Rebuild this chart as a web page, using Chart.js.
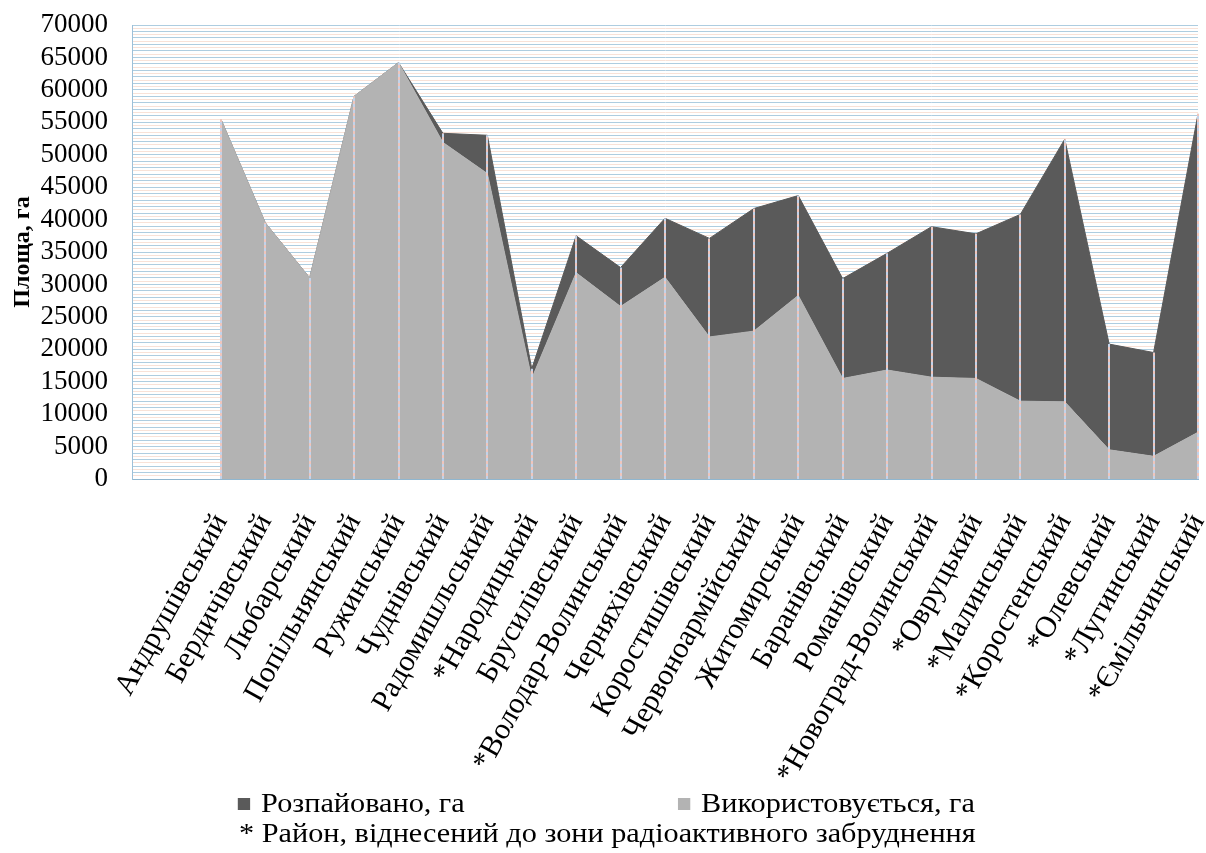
<!DOCTYPE html>
<html lang="uk">
<head>
<meta charset="utf-8">
<title>Площа земель за районами</title>
<script src="https://cdn.jsdelivr.net/npm/chart.js@4/dist/chart.umd.min.js"></script>
<style>
    body { margin: 0; background: #ffffff; }
    .wrap { position: relative; width: 1206px; height: 853px; }
    .legend {
        position: absolute; left: 4px; top: 788px; width: 1206px;
        display: flex; justify-content: center; gap: 190px;
        font-family: 'Liberation Serif', 'Times New Roman', serif; font-size: 27px; color: #000;
        transform: scaleX(1.12); transform-origin: 609px 0;
    }
    .legend-item { display: flex; align-items: center; }
    .legend-box { width: 11px; height: 12px; margin-right: 10px; }
    .note {
        position: absolute; left: 5px; top: 818px; width: 1206px; text-align: center;
        font-family: 'Liberation Serif', 'Times New Roman', serif; font-size: 27px; color: #000;
        transform: scaleX(1.12); transform-origin: 608px 0;
    }
</style>
</head>
<body>
<div class="wrap">
    <canvas id="areaChart" width="1206" height="853"></canvas>
    <div class="legend" id="legend"></div>
    <div class="note" id="note"></div>
</div>
<script>
const districts = ['Андрушівський', 'Бердичівський', 'Любарський', 'Попільнянський', 'Ружинський',
    'Чуднівський', 'Радомишльський', '*Народицький', 'Брусилівський', '*Володар-Волинський',
    'Черняхівський', 'Коростишівський', 'Червоноармійський', 'Житомирський', 'Баранівський',
    'Романівський', '*Новоград-Волинський', '*Овруцький', '*Малинський', '*Коростенський',
    '*Олевський', '*Лугинський', '*Ємільчинський'];
const usedArea = [55500, 39500, 31000, 59000, 64200, 51900, 47100, 15500, 31800, 26600,
    31100, 21900, 22800, 28300, 15500, 16800, 15700, 15500, 12000, 11900, 4500, 3500, 7200];
const sharedArea = [0, 0, 0, 0, 0, 1400, 5900, 1500, 5700, 6000,
    9100, 15200, 18900, 15400, 15400, 18000, 23200, 22300, 28800, 40500, 16300, 16000, 49100];
const seriesNames = ['Розпайовано, га', 'Використовується, га'];
const seriesColors = ['#5a5a5a', '#b3b3b3'];
const yTitle = 'Площа, га';
const footnote = '* Район, віднесений до зони радіоактивного забруднення';
const yMax = 70000;
const yLabelStep = 5000;
const leadingBlanks = 2;

const serif = "'Liberation Serif', 'Times New Roman', serif";
const blanks = new Array(leadingBlanks).fill(null);
const labels = new Array(leadingBlanks).fill('').concat(districts);

// dotted drop lines from the axis up to the top of the stack
const dropLines = {
    id: 'dropLines',
    afterDatasetsDraw(chart) {
        const ctx = chart.ctx;
        const x = chart.scales.x;
        const y = chart.scales.y;
        ctx.save();
        ctx.lineWidth = 2;
        districts.forEach((name, i) => {
            const px = Math.round(x.getPixelForValue(i + leadingBlanks));
            const top = y.getPixelForValue(usedArea[i] + sharedArea[i]);
            [['#c3d3ea', 0], ['#efc6bd', 3]].forEach(([color, offset]) => {
                ctx.strokeStyle = color;
                ctx.setLineDash([3, 3]);
                ctx.lineDashOffset = offset;
                ctx.beginPath();
                ctx.moveTo(px, y.bottom);
                ctx.lineTo(px, top);
                ctx.stroke();
            });
        });
        ctx.restore();
    }
};

const chart = new Chart(document.getElementById('areaChart'), {
    type: 'line',
    data: {
        labels: labels,
        datasets: [{
            label: seriesNames[1],
            data: blanks.concat(usedArea),
            backgroundColor: seriesColors[1],
            borderColor: seriesColors[1],
            borderWidth: 1,
            pointRadius: 0,
            fill: 'origin',
            tension: 0
        }, {
            label: seriesNames[0],
            data: blanks.concat(sharedArea),
            backgroundColor: seriesColors[0],
            borderColor: seriesColors[0],
            borderWidth: 1,
            pointRadius: 0,
            fill: '-1',
            tension: 0
        }]
    },
    options: {
        responsive: false,
        animation: false,
        layout: { padding: { top: 25, right: 8, left: 0, bottom: 0 } },
        plugins: {
            legend: { display: false },
            tooltip: { enabled: false }
        },
        scales: {
            x: {
                offset: false,
                grid: { display: false, drawTicks: false },
                border: { display: true, color: '#8fb6cf', width: 1 },
                ticks: {
                    autoSkip: false,
                    minRotation: 61,
                    maxRotation: 61,
                    padding: 29,
                    color: '#000',
                    font: { family: serif, size: 30 }
                },
                afterFit(scale) {
                    scale.height = 374;
                    scale.paddingLeft = 0;
                    scale.paddingRight = 0;
                }
            },
            y: {
                stacked: true,
                min: 0,
                max: yMax,
                grid: {
                    drawTicks: false,
                    lineWidth: 1,
                    color: (c) => (c.tick && c.tick.value % 1000 === 0) ? '#aecde0' : '#f8e2d8'
                },
                border: { display: true, color: '#9dc0d8', width: 1 },
                ticks: {
                    stepSize: 500,
                    autoSkip: false,
                    padding: 24,
                    color: '#000',
                    font: { family: serif, size: 27 },
                    callback: (v) => v % yLabelStep === 0 ? String(v) : ''
                },
                title: {
                    display: true,
                    text: yTitle,
                    color: '#000',
                    padding: { top: 8, bottom: 0 },
                    font: { family: serif, size: 24, weight: 'bold' }
                },
                afterFit(scale) {
                    scale.width = 132;
                    scale.paddingTop = 0;
                    scale.paddingBottom = 0;
                }
            }
        }
    },
    plugins: [dropLines]
});

const legend = document.getElementById('legend');
seriesNames.forEach((name, i) => {
    const item = document.createElement('div');
    item.className = 'legend-item';
    const box = document.createElement('span');
    box.className = 'legend-box';
    box.style.background = seriesColors[i];
    const text = document.createElement('span');
    text.textContent = name;
    item.appendChild(box);
    item.appendChild(text);
    legend.appendChild(item);
});
document.getElementById('note').textContent = footnote;
</script>
</body>
</html>
